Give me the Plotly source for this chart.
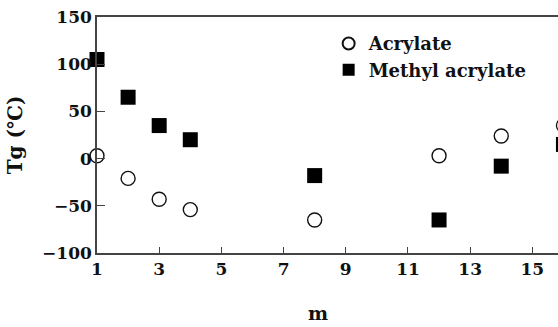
import plotly.graph_objects as go

m_values = [1, 2, 3, 4, 8, 12, 14, 16]
acrylate_tg = [3, -21, -43, -54, -65, 3, 24, 35]
methyl_acrylate_tg = [105, 65, 35, 20, -18, -65, -8, 15]
x_ticks = [1, 3, 5, 7, 9, 11, 13, 15]
y_ticks = [-100, -50, 0, 50, 100, 150]

FONT = "DejaVu Serif"

fig = go.Figure()
fig.add_trace(go.Scatter(
    x=m_values, y=acrylate_tg, mode="markers", name="Acrylate", cliponaxis=False,
    marker=dict(symbol="circle-open", size=14, color="#111", line=dict(width=1.4, color="#111")),
))
fig.add_trace(go.Scatter(
    x=m_values, y=methyl_acrylate_tg, mode="markers", name="Methyl acrylate", cliponaxis=False,
    marker=dict(symbol="square", size=15, color="#000"),
))

fig.update_layout(
    width=565, height=327,
    margin=dict(l=97, r=0, t=17, b=74),
    paper_bgcolor="white", plot_bgcolor="white",
    font=dict(family=FONT, color="#111", size=16),
    showlegend=True,
    legend=dict(x=0.495, y=0.965, xanchor="left", yanchor="top",
                bgcolor="rgba(0,0,0,0)", font=dict(size=18, family=FONT, weight="bold"),
                itemsizing="constant", tracegroupgap=0),
    xaxis=dict(
        range=[1, 16.05], tickvals=x_ticks, ticktext=[str(v) for v in x_ticks],
        ticks="inside", ticklen=6, tickwidth=1.2, tickcolor="#444",
        showline=True, linecolor="#444", linewidth=1.5, mirror=True,
        showgrid=False, zeroline=False, automargin=False,
        tickfont=dict(size=17, family=FONT, weight="bold"),
    ),
    yaxis=dict(
        range=[-100, 150], tickvals=y_ticks,
        ticks="inside", ticklen=8, tickwidth=1.2, tickcolor="#444",
        showline=True, linecolor="#444", linewidth=1.5, mirror=False,
        showgrid=False, zeroline=False, automargin=False,
        tickfont=dict(size=17, family=FONT, weight="bold"),
        title=dict(text="Tg (℃)", font=dict(size=20, family=FONT, weight="bold"), standoff=14),
    ),
    annotations=[dict(
        text="m", xref="paper", yref="paper", x=0.472, y=-0.255,
        xanchor="center", yanchor="middle", showarrow=False,
        font=dict(size=19, family=FONT, weight="bold"),
    )],
)

fig.write_html(
    "out.html",
    config={"displayModeBar": False},
    post_script="document.body.style.margin='0';document.body.style.overflow='hidden';",
)
